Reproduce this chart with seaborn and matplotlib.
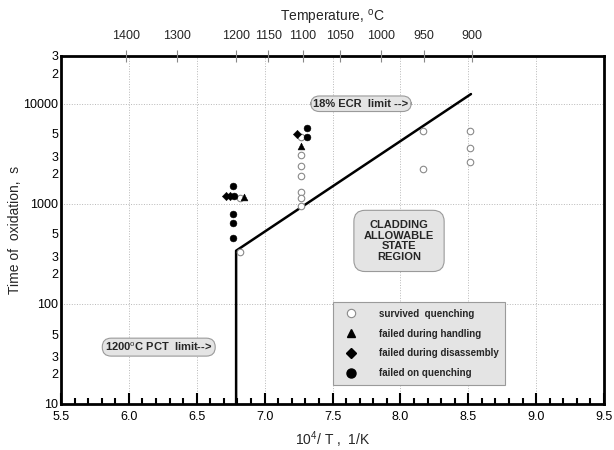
import numpy as np
import pandas as pd
import matplotlib
matplotlib.use("Agg")
import matplotlib.pyplot as plt
import seaborn as sns
from matplotlib.lines import Line2D
from matplotlib.ticker import FixedLocator, FuncFormatter

# data
surv_x = [6.82, 6.82, 7.27, 7.27, 7.27, 7.27, 7.27, 7.27, 7.27, 8.165, 8.165, 8.51, 8.51, 8.51]
surv_y = [1156, 330, 4630, 3110, 2415, 1890, 1313, 1156, 946, 5380, 2240, 5300, 3590, 2630]
hand_x = [6.85, 7.27]
hand_y = [1180, 3820]
dis_x = [6.716, 6.745, 7.235]
dis_y = [1190, 1190, 4990]
quench_x = [6.77, 6.772, 6.77, 6.77, 6.77, 7.315, 7.315]
quench_y = [1500, 1190, 800, 645, 460, 5680, 4630]

limit_x = [6.79, 6.79, 8.52]
limit_y = [10, 340, 12500]

temp_c = [1400, 1300, 1200, 1150, 1100, 1050, 1000, 950, 900]

sns.set_style("white")
plt.rcParams['font.family'] = ['Liberation Sans', 'DejaVu Sans']
plt.rcParams['mathtext.fontset'] = 'custom'
plt.rcParams['mathtext.rm'] = 'Liberation Sans'

fig = plt.figure(figsize=(6.14, 4.5), dpi=100)
ax = fig.add_axes([61/614, 1-404/450, 543/614, 348/450])

ax.set_yscale('log')
ax.set_xlim(5.5, 9.5)
ax.set_ylim(10, 30000)

# grid
for gx in np.arange(6.0, 9.01, 0.5):
    ax.axvline(gx, color='#b8b8b8', lw=0.7, ls=':', zorder=0)
for gy in [100, 1000, 10000]:
    ax.axhline(gy, color='#b8b8b8', lw=0.7, ls=':', zorder=0)

sns.lineplot(x=limit_x, y=limit_y, sort=False, estimator=None, color='black', lw=1.8, ax=ax)

sns.scatterplot(x=surv_x, y=surv_y, marker='o', s=22, facecolor='white', edgecolor='#8a8a8a',
                linewidth=0.8, ax=ax, zorder=3)
sns.scatterplot(x=hand_x, y=hand_y, marker='^', s=24, color='black', edgecolor='black', ax=ax, zorder=3)
sns.scatterplot(x=dis_x, y=dis_y, marker='D', s=18, color='black', edgecolor='black', ax=ax, zorder=3)
sns.scatterplot(x=quench_x, y=quench_y, marker='o', s=24, color='black', edgecolor='black', ax=ax, zorder=3)

# ticks
ax.xaxis.set_major_locator(FixedLocator(np.arange(5.5, 9.51, 0.5)))
ax.xaxis.set_minor_locator(FixedLocator(np.arange(5.5, 9.51, 0.1)))
ax.xaxis.set_major_formatter(FuncFormatter(lambda v, p: f"{v:.1f}"))
ax.yaxis.set_major_locator(FixedLocator([10, 100, 1000, 10000]))
ax.yaxis.set_major_formatter(FuncFormatter(lambda v, p: f"{int(round(v))}"))
minors = [m * 10**e for e in range(1, 5) for m in range(2, 10) if m * 10**e <= 30000]
ax.yaxis.set_minor_locator(FixedLocator(minors))

def minor_fmt(v, p):
    m = int(round(v / 10**np.floor(np.log10(v))))
    return str(m) if m in (2, 3, 5) else ""

ax.yaxis.set_minor_formatter(FuncFormatter(minor_fmt))
ax.tick_params(which='both', direction='in', width=1.5, top=False, right=False,
               labelsize=9, colors='black', pad=2)
ax.tick_params(which='major', length=8)
ax.tick_params(which='minor', length=4)
ax.tick_params(axis='x', which='both', pad=5)
for s in ax.spines.values():
    s.set_linewidth(2)
    s.set_color('black')

ax.set_xlabel("10$^{4}$/ T ,  1/K", fontsize=10, labelpad=5)
ax.set_ylabel("Time of  oxidation,  s", fontsize=10, labelpad=1)

# top temperature axis
ax2 = ax.twiny()
ax2.set_xlim(ax.get_xlim())
ax2.set_xticks(1e4 / (np.array(temp_c) + 273.15))
ax2.set_xticklabels([str(t) for t in temp_c])
ax2.tick_params(direction='inout', length=8, width=0.8, color='#888888', labelsize=9, pad=6)
ax2.set_xlabel("Temperature, $^{\\mathrm{o}}$C", fontsize=10, labelpad=6)
for s in ax2.spines.values():
    s.set_visible(False)

box = dict(boxstyle='round,pad=0.25,rounding_size=0.8', fc='#e4e4e4', ec='#9a9a9a', lw=0.8)
ax.text(7.71, 10000, "18% ECR  limit -->", ha='center', va='center', fontsize=8,
        fontweight='bold', bbox=box, zorder=4)
ax.text(6.22, 37, "1200$^{\\mathrm{o}}$C PCT  limit-->", ha='center', va='center', fontsize=8,
        fontweight='bold', bbox=box, zorder=4)
ax.text(7.99, 426, "CLADDING\nALLOWABLE\nSTATE\nREGION", ha='center', va='center', fontsize=8,
        fontweight='bold', linespacing=1.05,
        bbox=dict(boxstyle='round,pad=0.9,rounding_size=1.0', fc='#e4e4e4', ec='#9a9a9a', lw=0.8),
        zorder=4)

handles = [
    Line2D([], [], ls='', marker='o', ms=6, mfc='white', mec='#8a8a8a', mew=0.8),
    Line2D([], [], ls='', marker='^', ms=6, color='black'),
    Line2D([], [], ls='', marker='D', ms=5, color='black'),
    Line2D([], [], ls='', marker='o', ms=6.5, color='black'),
]
labels = ["survived  quenching", "failed during handling", "failed during disassembly",
          "failed on quenching"]
leg = ax.legend(handles, labels, loc='upper left', bbox_to_anchor=(0.501, 0.293),
                prop={'weight': 'bold', 'size': 7}, fancybox=False, framealpha=1,
                facecolor='#e4e4e4', edgecolor='#9a9a9a', labelspacing=1.0,
                handletextpad=1.8, borderpad=0.7, handlelength=2.2, borderaxespad=0)
leg.get_frame().set_linewidth(0.8)

fig.savefig("out.png", dpi=100)
